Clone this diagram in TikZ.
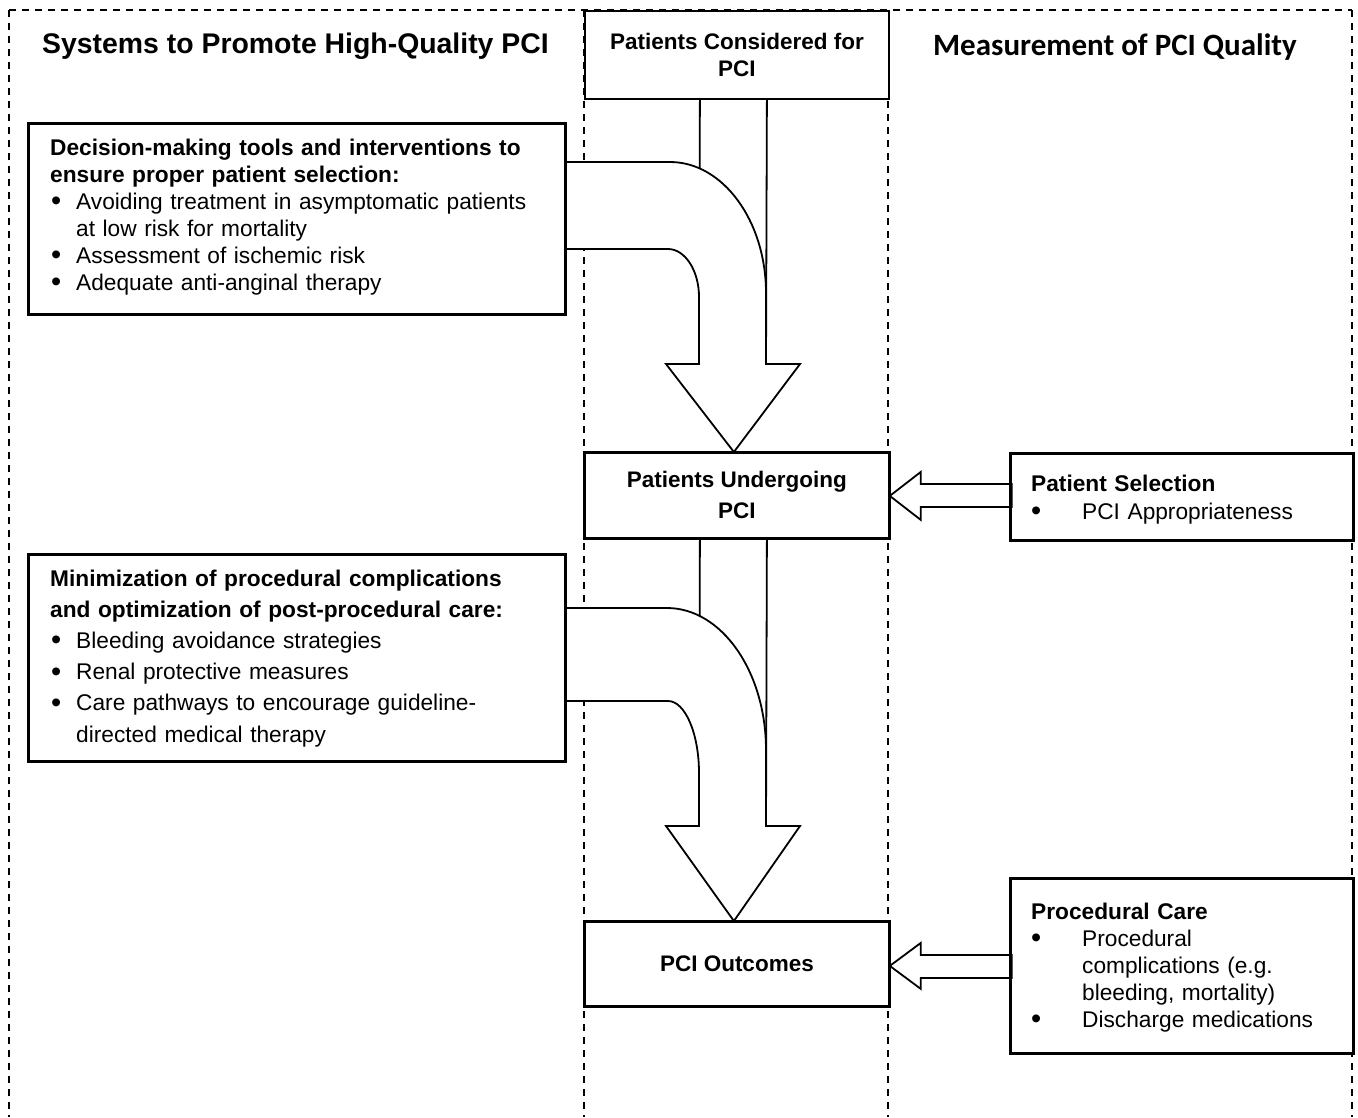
\documentclass[tikz,border=0pt]{standalone}
\usepackage{fontspec}
\setmainfont{Liberation Sans}
\newfontfamily\calibrifont{Carlito}
\usetikzlibrary{calc}
\newcommand{\bigdot}{\raisebox{-1.5pt}{\fontsize{29}{29}\selectfont\textbullet}}
\newcommand{\lbul}{\makebox[26pt][l]{\hspace{1pt}\bigdot}}
\newcommand{\lind}{\hspace*{26pt}}
\newcommand{\rbul}{\makebox[51pt][l]{\hspace{0pt}\bigdot}}
\newcommand{\rind}{\hspace*{51pt}}
\begin{document}
\begin{tikzpicture}[x=1pt,y=-1pt,
  dashln/.style={line width=1.6pt, dash pattern=on 7pt off 6pt},
  box/.style={draw, line width=1.8pt, fill=white, inner sep=0pt, anchor=north west},
  ctext/.style={font=\bfseries\fontsize{22.5}{27}\selectfont, align=center},
  body/.style={text width=#1, align=left, inner sep=0pt, anchor=base west},
  shaft/.style={line width=1.8pt},
  barrow/.style={draw, line width=1.8pt, fill=white, line join=miter}]
\useasboundingbox (0,0) rectangle (1358,1117);
\fill[white] (0,0) rectangle (1358,1117);
% column frame
\draw[dashln] (9,10) -- (1352,10);
\draw[dashln] (9,10) -- (9,1117);
\draw[dashln] (584,10) -- (584,1117);
\draw[dashln] (888,10) -- (888,1117);
\draw[dashln] (1352,10) -- (1352,1117);
% boxes (placed first to name them)
\node[box, minimum width=304pt, minimum height=88pt, ctext] (c1) at (584,10) {Patients Considered for\\PCI};
\node[box, minimum width=304pt, minimum height=85pt, ctext, font=\bfseries\fontsize{22.5}{31}\selectfont] (c2) at (584,452) {Patients Undergoing\\PCI};
\node[box, minimum width=304pt, minimum height=84pt, ctext] (c3) at (584,921) {PCI Outcomes};
\node[box, minimum width=536pt, minimum height=190pt] (b1) at (28,123) {};
\node[box, minimum width=536pt, minimum height=206pt] (b4) at (28,554) {};
\node[box, minimum width=342pt, minimum height=86pt] (rA) at (1010,453) {};
\node[box, minimum width=342pt, minimum height=174pt] (rB) at (1010,878) {};
% straight shafts behind the curved arrows
\draw[shaft] ($(c1.south)+(-37,0)$) -- (699,364);
\draw[shaft] ($(c1.south)+(30,0)$) -- (766,364);
\draw[shaft] ($(c2.south)+(-37,0)$) -- (699,826);
\draw[shaft] ($(c2.south)+(30,0)$) -- (766,826);
% curved block arrow 1
\draw[barrow] ($(b1.north east)+(0,39)$) -- (670,162)
  .. controls (723,162) and (766,221) .. (766,293) -- (766,364) -- (800,364)
  -- ($(c2.north)+(-3,0)$) -- (666,364) -- (699,364) -- (699,297)
  .. controls (699,270.5) and (685,249) .. (668,249) -- ($(b1.north east)+(0,126)$) -- cycle;
% curved block arrow 2
\draw[barrow] ($(b4.north east)+(0,54)$) -- (667,608)
  .. controls (721.6,608) and (766,671.6) .. (766,750) -- (766,826) -- (800,826)
  -- ($(c3.north)+(-3,0)$) -- (666,826) -- (699,826) -- (699,773)
  .. controls (699,733.3) and (685,701) .. (668,701) -- ($(b4.north east)+(0,147)$) -- cycle;
% side arrows
\draw[barrow] ($(c2.east)+(0,0.5)$) -- ++(31,-24) -- ++(0,12) -- ++(91,0) -- ++(0,23) -- ++(-91,0) -- ++(0,13) -- cycle;
\draw[barrow] ($(c3.east)+(0,2)$) -- ++(31,-23) -- ++(0,12) -- ++(91,0) -- ++(0,23) -- ++(-91,0) -- ++(0,11) -- cycle;
% redraw box borders over arrow joins
\draw[line width=1.8pt] (b1.north west) rectangle (b1.south east);
\draw[line width=1.8pt] (b4.north west) rectangle (b4.south east);
\draw[line width=1.8pt] (rA.north west) rectangle (rA.south east);
\draw[line width=1.8pt] (rB.north west) rectangle (rB.south east);
\draw[line width=1.8pt] (c2.north west) rectangle (c2.south east);
\draw[line width=1.8pt] (c3.north west) rectangle (c3.south east);
% headings
\node[anchor=base, inner sep=0pt, font=\bfseries\fontsize{28.4}{34}\selectfont] (hL) at (295.5,53) {Systems to Promote High-Quality PCI};
\node[anchor=base, inner sep=0pt, font=\calibrifont\bfseries\fontsize{31}{37}\selectfont] (hR) at (1115,55) {Measurement of PCI Quality};
% box texts
\node[body=510pt, font=\fontsize{22.7}{27}\selectfont] (t1) at (50,155) {\textbf{Decision-making tools and interventions to}\\
\textbf{ensure proper patient selection:}\\
\lbul Avoiding treatment in asymptomatic patients\\
\lind at low risk for mortality\\
\lbul Assessment of ischemic risk\\
\lbul Adequate anti-anginal therapy};
\node[body=510pt, font=\fontsize{22.7}{31.2}\selectfont] (t4) at (50,586) {\textbf{Minimization of procedural complications}\\
\textbf{and optimization of post-procedural care:}\\
\lbul Bleeding avoidance strategies\\
\lbul Renal protective measures\\
\lbul Care pathways to encourage guideline-\\
\lind directed medical therapy};
\node[body=318pt, font=\fontsize{22.7}{28}\selectfont] (tA) at (1031,491) {\textbf{Patient Selection}\\
\rbul PCI Appropriateness};
\node[body=318pt, font=\fontsize{22.7}{27}\selectfont] (tB) at (1031,919) {\textbf{Procedural Care}\\
\rbul Procedural\\
\rind complications (e.g.\\
\rind bleeding, mortality)\\
\rbul Discharge medications};
\end{tikzpicture}
\end{document}
